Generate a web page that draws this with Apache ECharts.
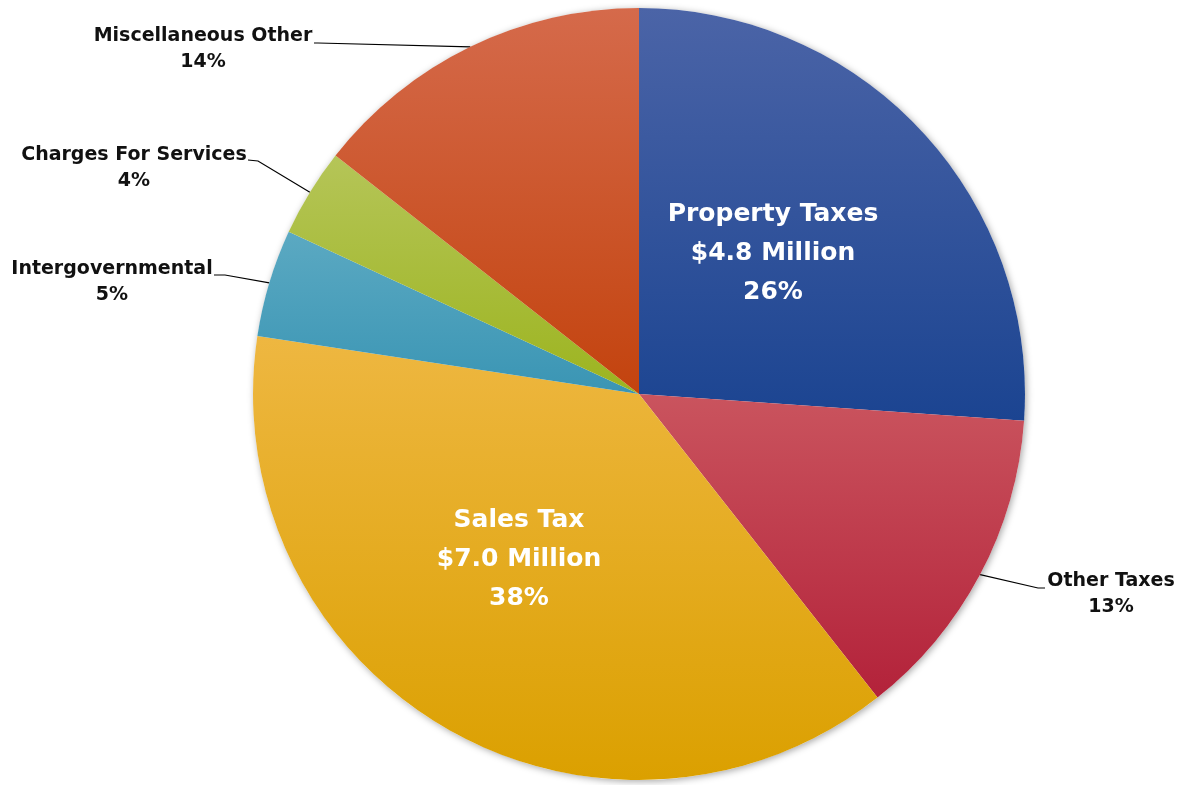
<!DOCTYPE html>
<html>
<head>
<meta charset="utf-8">
<script src="https://cdn.jsdelivr.net/npm/echarts@6/dist/echarts.min.js"></script>
<style>
html,body{margin:0;padding:0;background:#fff;}
#chart{width:1180px;height:785px;}
</style>
</head>
<body>
<div id="chart"></div>
<script>
const categories = ['Property Taxes', 'Other Taxes', 'Sales Tax', 'Intergovernmental', 'Charges For Services', 'Miscellaneous Other'];
const values = [26.1, 13.3, 38.0, 4.5, 3.7, 14.4];
const amounts = ['$4.8 Million', '', '$7.0 Million', '', '', ''];
const insideLabel = [true, false, true, false, false, false];
const topColors = ['#4b64a7', '#ca545e', '#eeb741', '#5ba9c2', '#b5c558', '#d56a4b'];
const bottomColors = ['#1b4491', '#b3223a', '#dba000', '#3a95b4', '#9cb41f', '#c3430e'];

// label placement (pixels) and leader-line bends, for layout only
const labelPos = [
  {x: 773, y: 253},
  {x: 1111, y: 594},
  {x: 519, y: 559},
  {x: 112, y: 282},
  {x: 134, y: 168},
  {x: 203, y: 49}
];
const lineBends = [
  null,
  [[1038, 588], [1045, 588]],
  null,
  [[225, 275], [214, 275]],
  [[258, 161], [248, 160]],
  [[318, 43], [314, 43]]
];

const chart = echarts.init(document.getElementById('chart'));
const FONT = 'DejaVu Sans';
const total = values.reduce((a, b) => a + b, 0);

const data = categories.map((name, i) => ({
  name: name,
  value: values[i],
  itemStyle: {
    color: new echarts.graphic.LinearGradient(0, 0, 0, 1, [
      {offset: 0, color: topColors[i]},
      {offset: 1, color: bottomColors[i]}
    ])
  },
  label: insideLabel[i] ? {
    position: 'inside',
    color: '#ffffff',
    fontSize: 25,
    lineHeight: 39,
    fontWeight: 'bold'
  } : {
    position: 'outside',
    color: '#111111',
    fontSize: 19,
    lineHeight: 26,
    fontWeight: 'bold'
  },
  labelLine: {show: !insideLabel[i]}
}));

chart.setOption({
  animation: false,
  series: [{
    type: 'pie',
    silent: true,
    z: 1,
    center: [639, 394],
    radius: [0, 386],
    label: {show: false},
    labelLine: {show: false},
    itemStyle: {
      color: '#ffffff',
      shadowBlur: 7,
      shadowColor: 'rgba(0,0,0,0.35)',
      shadowOffsetX: 1.5,
      shadowOffsetY: 1.5
    },
    data: [{name: 'total', value: total}]
  }, {
    type: 'pie',
    z: 2,
    center: [639, 394],
    radius: [0, 386],
    startAngle: 90,
    clockwise: true,
    avoidLabelOverlap: false,
    data: data,
    itemStyle: {
      borderWidth: 0
    },
    label: {
      show: true,
      fontFamily: FONT,
      align: 'center',
      formatter: function (p) {
        const pct = Math.round(p.percent) + '%';
        const amt = amounts[p.dataIndex];
        return amt ? p.name + '\n' + amt + '\n' + pct : p.name + '\n' + pct;
      }
    },
    labelLine: {
      show: true,
      length: 10,
      length2: 10,
      lineStyle: {color: '#000000', width: 1.2}
    },
    labelLayout: function (params) {
      const i = params.dataIndex;
      const res = {
        x: labelPos[i].x,
        y: labelPos[i].y,
        align: 'center',
        verticalAlign: 'middle'
      };
      if (lineBends[i] && params.labelLinePoints) {
        res.labelLinePoints = [params.labelLinePoints[0]].concat(lineBends[i]);
      }
      return res;
    }
  }]
});
</script>
</body>
</html>
